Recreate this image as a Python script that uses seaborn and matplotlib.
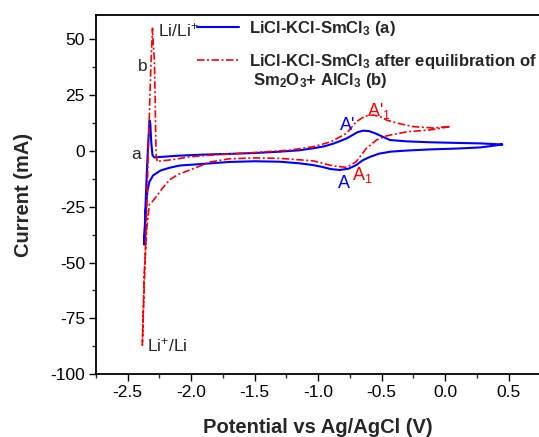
import matplotlib
matplotlib.use("Agg")
import numpy as np
import pandas as pd
import seaborn as sns
import matplotlib.pyplot as plt
from matplotlib.ticker import MultipleLocator, FormatStrFormatter

# ---------------- data ----------------
# (a) LiCl-KCl-SmCl3 : cathodic scan from +0.45 V, then anodic return
blue_x = [0.45, 0.28, 0.10, -0.12, -0.30, -0.43, -0.52, -0.59, -0.65, -0.70,
          -0.76, -0.83, -0.90, -0.97, -1.04, -1.15, -1.30, -1.50, -1.70, -1.96,
          -2.09, -2.17, -2.24, -2.30, -2.33, -2.345, -2.36, -2.37,
          -2.36, -2.35, -2.34, -2.332, -2.328, -2.322, -2.315, -2.305, -2.29,
          -2.25, -2.10, -1.90, -1.70, -1.50, -1.30, -1.15, -1.04, -0.95, -0.88,
          -0.82, -0.776, -0.73, -0.69, -0.645, -0.60, -0.55, -0.50, -0.434,
          -0.30, -0.12, 0.10, 0.275, 0.45]
blue_y = [2.8, 1.5, 1.0, 0.6, 0.1, -0.4, -1.3, -2.7, -4.3, -6.4,
          -8.0, -8.6, -8.2, -7.2, -6.4, -5.6, -4.9, -4.7, -5.0, -6.1,
          -6.6, -7.6, -8.8, -11.0, -14.0, -18.0, -28.0, -42.0,
          -25.0, -10.0, 2.0, 10.0, 13.5, 12.0, 4.0, -2.0, -3.0,
          -2.8, -2.2, -1.7, -1.4, -1.0, -0.4, 0.2, 1.1, 2.0, 3.2,
          4.5, 5.5, 7.0, 8.3, 9.0, 8.8, 7.8, 6.5, 4.8,
          4.2, 3.8, 3.5, 3.3, 2.8]

# (b) LiCl-KCl-SmCl3 after equilibration of Sm2O3 + AlCl3
red_x = [0.037, -0.12, -0.30, -0.46, -0.54, -0.62, -0.70, -0.776, -0.85, -0.91,
         -1.04, -1.30, -1.50, -1.70, -1.85, -2.01, -2.10, -2.17, -2.23, -2.276,
         -2.31, -2.33, -2.35, -2.37, -2.385,
         -2.37, -2.355, -2.345, -2.335, -2.325, -2.316, -2.305, -2.298, -2.29,
         -2.283, -2.279, -2.276, -2.265, -2.25, -2.15, -2.013, -1.80, -1.50,
         -1.22, -1.04, -0.90, -0.776, -0.70, -0.63, -0.566, -0.50, -0.46,
         -0.35, -0.25, -0.10, 0.037]
red_y = [10.8, 9.3, 8.5, 6.7, 4.8, 1.1, -4.9, -7.4, -7.0, -6.4,
         -4.5, -3.4, -3.2, -3.6, -5.0, -8.6, -10.5, -13.0, -17.0, -20.6,
         -23.0, -24.0, -35.0, -55.0, -87.0,
         -60.0, -35.0, -15.0, 5.0, 25.0, 40.6, 54.8, 47.0, 40.6,
         20.0, 5.0, -2.7, -5.0, -4.6, -4.0, -2.7, -1.8, -0.8,
         0.3, 1.8, 4.0, 7.8, 13.0, 15.5, 16.0, 15.0, 13.7,
         12.0, 10.8, 10.2, 10.8]

label_a = r"LiCl-KCl-SmCl$_\mathbf{3}$ (a)"
label_b1 = r"LiCl-KCl-SmCl$_\mathbf{3}$ after equilibration of"
label_b2 = r"Sm$_\mathbf{2}$O$_\mathbf{3}$+ AlCl$_\mathbf{3}$ (b)"
x_ticks = [-2.5, -2.0, -1.5, -1.0, -0.5, 0.0, 0.5]
y_ticks = [-100, -75, -50, -25, 0, 25, 50]

# ---------------- style ----------------
sns.set_style("ticks")
plt.rcParams["font.family"] = ["Liberation Sans", "DejaVu Sans"]
plt.rcParams["mathtext.fontset"] = "custom"
plt.rcParams["mathtext.rm"] = "Liberation Sans"
plt.rcParams["mathtext.it"] = "Liberation Sans:italic"
plt.rcParams["mathtext.bf"] = "Liberation Sans:bold"
plt.rcParams["axes.unicode_minus"] = False

fig = plt.figure(figsize=(5.39, 4.37), dpi=100)
ax = fig.add_axes([96 / 539, (437 - 374.3) / 437, 443 / 539, 359 / 437])

df_a = pd.DataFrame({"x": blue_x, "y": blue_y})
df_b = pd.DataFrame({"x": red_x, "y": red_y})

sns.lineplot(data=df_a, x="x", y="y", sort=False, estimator=None,
             color="#0000ff", lw=1.5, ax=ax, legend=False)
sns.lineplot(data=df_b, x="x", y="y", sort=False, estimator=None,
             color="#ff0000", lw=1.2, ax=ax, legend=False)
line_a, line_b = ax.lines[0], ax.lines[1]
line_b.set_linestyle((0, (4.5, 1.5, 1.2, 1.5)))
line_a.set_label(label_a)
line_b.set_label(label_b1)

ax.set_xlim(-2.75, 0.74)
ax.set_ylim(-100, 60.6)
ax.set_xticks(x_ticks)
ax.set_yticks(y_ticks)
ax.xaxis.set_minor_locator(MultipleLocator(0.25))
ax.yaxis.set_minor_locator(MultipleLocator(12.5))
ax.xaxis.set_major_formatter(FormatStrFormatter("%.1f"))
ax.yaxis.set_major_formatter(FormatStrFormatter("%d"))
ax.tick_params(which="major", direction="out", length=5, width=1.0,
               labelsize=12.5, pad=3, colors="black")
ax.tick_params(which="minor", direction="out", length=3, width=1.0)
ax.tick_params(top=False, right=False, which="both")
for s in ["left", "bottom", "top"]:
    ax.spines[s].set_linewidth(1.3)
    ax.spines[s].set_color("black")
ax.spines["right"].set_visible(False)

ax.set_xlabel("Potential vs Ag/AgCl (V)", fontsize=14.5, fontweight="bold", labelpad=13)
ax.set_ylabel("Current (mA)", fontsize=14.5, fontweight="bold", labelpad=12)

leg = ax.legend(handles=[line_a, line_b], loc="upper left",
                bbox_to_anchor=(0.228, 0.99), frameon=False,
                prop={"size": 12, "weight": "bold"},
                handlelength=2.5, handletextpad=0.6, labelspacing=0.85,
                borderpad=0, borderaxespad=0)
ax.text(0.354, 0.817, label_b2, transform=ax.transAxes, fontsize=12,
        fontweight="bold", ha="left", va="center")

# annotations
ax.text(-2.265, 53.9, "Li/Li$^{+}$", fontsize=12.5, ha="left", va="center")
ax.text(-2.383, 37.9, "b", fontsize=12.5, ha="center", va="center")
ax.text(-2.435, -1.7, "a", fontsize=12.5, ha="center", va="center")
ax.text(-2.345, -87, "Li$^{+}$/Li", fontsize=12.5, ha="left", va="center")
ax.text(-0.77, 11.5, "A'", fontsize=13, color="#0000ff", ha="center", va="center")
ax.text(-0.617, 17.6, "A'$_1$", fontsize=13, color="#ff0000", ha="left", va="center")
ax.text(-0.797, -14.7, "A", fontsize=13, color="#0000ff", ha="center", va="center")
ax.text(-0.735, -10.7, "A$_1$", fontsize=13, color="#ff0000", ha="left", va="center")

fig.savefig("out.png", dpi=100)
